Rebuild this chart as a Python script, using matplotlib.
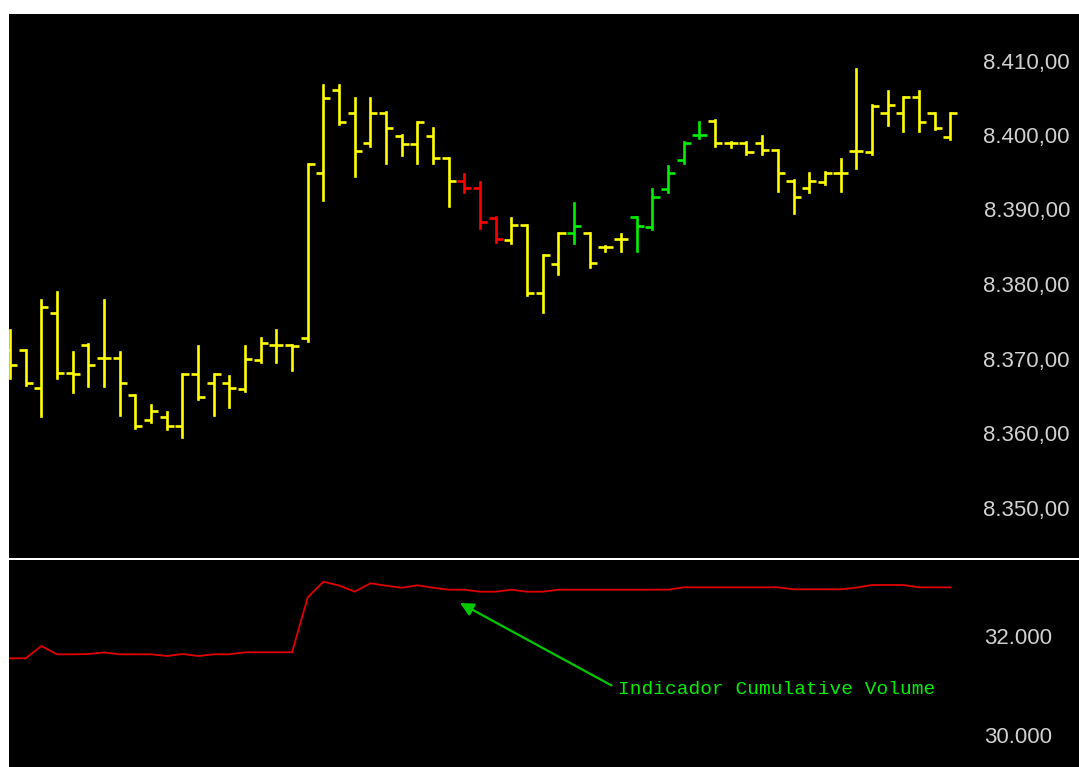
import matplotlib
matplotlib.use('Agg')
import matplotlib.pyplot as plt
import numpy as np

# ---------------- data ----------------
opens = [8371.5, 8371.5, 8366.4, 8376.4, 8368.4, 8372.1, 8370.4, 8370.4, 8365.4, 8362.1,
         8362.5, 8361.3, 8368.3, 8367.0, 8367.0, 8366.2, 8370.1, 8372.1, 8372.1, 8373.1,
         8395.2, 8406.4, 8403.3, 8399.3, 8403.3, 8400.2, 8399.1, 8400.2, 8397.2, 8394.2,
         8393.2, 8389.2, 8386.2, 8388.3, 8379.1, 8383.0, 8387.2, 8387.2, 8385.3, 8386.4,
         8389.3, 8388.0, 8393.1, 8397.0, 8400.3, 8402.2, 8399.3, 8399.3, 8399.3, 8398.3,
         8394.2, 8393.2, 8394.0, 8395.2, 8398.2, 8398.1, 8403.3, 8403.3, 8405.4, 8403.3, 8400.1]
highs = [8374.2, 8371.5, 8378.2, 8379.3, 8371.2, 8372.3, 8378.2, 8371.2, 8365.4, 8364.1,
         8363.2, 8368.3, 8372.0, 8368.3, 8368.0, 8372.0, 8373.1, 8374.2, 8372.1, 8396.4,
         8407.0, 8407.0, 8405.3, 8405.3, 8403.4, 8400.3, 8402.1, 8401.3, 8397.2, 8395.1,
         8394.0, 8389.3, 8389.2, 8388.3, 8384.2, 8387.2, 8391.2, 8387.2, 8385.4, 8387.0,
         8389.3, 8393.1, 8396.2, 8399.4, 8402.1, 8402.3, 8399.4, 8399.4, 8400.2, 8398.3,
         8394.3, 8395.2, 8395.4, 8397.1, 8409.2, 8404.4, 8406.2, 8405.4, 8406.2, 8403.3, 8403.3]
lows = [8367.7, 8366.8, 8362.6, 8367.7, 8365.8, 8366.6, 8366.6, 8362.8, 8361.0, 8361.8,
        8360.9, 8359.8, 8364.9, 8362.8, 8363.8, 8366.0, 8369.9, 8369.9, 8368.8, 8372.7,
        8391.6, 8401.8, 8394.8, 8398.9, 8396.6, 8397.7, 8396.6, 8396.6, 8390.8, 8392.7,
        8387.9, 8386.0, 8385.8, 8378.9, 8376.6, 8381.7, 8385.8, 8382.6, 8384.8, 8384.8,
        8384.8, 8387.7, 8392.7, 8396.6, 8399.9, 8398.9, 8398.7, 8397.8, 8397.8, 8392.8,
        8389.9, 8392.7, 8393.8, 8392.8, 8395.9, 8397.8, 8401.7, 8400.9, 8400.9, 8401.1, 8399.8]
closes = [8369.5, 8367.0, 8377.3, 8368.4, 8368.3, 8369.5, 8370.4, 8367.0, 8361.3, 8363.3,
          8361.3, 8368.3, 8365.2, 8368.3, 8366.4, 8370.3, 8372.4, 8372.1, 8372.0, 8396.4,
          8405.3, 8402.1, 8398.2, 8403.3, 8401.3, 8399.1, 8402.1, 8397.2, 8394.2, 8393.2,
          8388.7, 8386.4, 8388.3, 8379.1, 8384.2, 8387.2, 8388.1, 8383.2, 8385.3, 8386.4,
          8388.1, 8392.0, 8395.2, 8399.3, 8400.3, 8399.3, 8399.3, 8398.1, 8398.3, 8395.2,
          8392.0, 8394.2, 8395.2, 8395.2, 8398.2, 8404.2, 8404.4, 8405.4, 8402.1, 8401.3, 8403.3]
# bar signal: 'n' neutral, 'd' down (red), 'u' up (green)
signal = list('nnnnnnnnnn' 'nnnnnnnnnn' 'nnnnnnnnnd' 'ddnnnnunnn' 'uuuuunnnnn' 'nnnnnnnnnnn')
cum_volume = [31598, 31598, 31848, 31679, 31679, 31685, 31716, 31679, 31679, 31679,
              31645, 31685, 31645, 31679, 31679, 31720, 31720, 31720, 31720, 32836,
              33153, 33076, 32950, 33121, 33072, 33031, 33080, 33031, 32991, 32991,
              32950, 32950, 32991, 32950, 32950, 32991, 32991, 32991, 32991, 32991,
              32991, 32991, 32991, 33039, 33039, 33039, 33039, 33039, 33039, 33039,
              32999, 32999, 32999, 32999, 33031, 33086, 33086, 33086, 33039, 33039, 33039]
price_ticks = [8350, 8360, 8370, 8380, 8390, 8400, 8410]
volume_ticks = [30000, 32000]
annotation_text = 'Indicador Cumulative Volume'

# ---------------- figure ----------------
W, H = 1079, 767
fig = plt.figure(figsize=(W / 100, H / 100), dpi=100)
fig.patch.set_facecolor('white')


def rect(x0, y0, x1, y1):
    return [x0 / W, 1 - y1 / H, (x1 - x0) / W, (y1 - y0) / H]


ax = fig.add_axes(rect(9, 14, W, 558))
ax2 = fig.add_axes(rect(9, 560, W, H))
for a in (ax, ax2):
    a.set_facecolor('black')
    for s in a.spines.values():
        s.set_visible(False)
    a.set_xticks([])
    a.set_yticks([])

step = 15.67
xlim = (-1 / step, (W - 10) / step)
x = np.arange(len(opens))
cmap = {'n': '#ffff00', 'd': '#ff0000', 'u': '#00f000'}
cols = [cmap[s] for s in signal]

lw = 1.9
tick = 0.45
ax.vlines(x, lows, highs, colors=cols, linewidth=lw, capstyle='projecting')
ax.hlines(opens, x - tick, x, colors=cols, linewidth=lw)
ax.hlines(closes, x, x + tick, colors=cols, linewidth=lw)
ax.set_xlim(*xlim)
ax.set_ylim(8410 - (558 - 63) / 7.45, 8410 + (63 - 14) / 7.45)

label_kw = dict(color='#d0d0d0', fontsize=16, family='Liberation Sans',
                ha='right', va='center')
for t in price_ticks:
    s = f'{t:,.2f}'.replace(',', 'X').replace('.', ',').replace('X', '.')
    ax.text(1 - 9 / (W - 9), t, s, transform=ax.get_yaxis_transform(), **label_kw)

ax2.plot(x, cum_volume, color='#e00000', linewidth=1.3)
ax2.set_xlim(*xlim)
ax2.set_ylim(32000 - (767 - 638.5) * 20.3, 32000 + (638.5 - 560) * 20.3)
for t in volume_ticks:
    s = f'{t:,d}'.replace(',', '.')
    ax2.text(1 - 27 / (W - 9), t, s, transform=ax2.get_yaxis_transform(), **label_kw)

ax2.annotate(annotation_text,
             xy=((460 - 10) / step, 32000 + (638.5 - 603) * 20.3),
             xytext=((618 - 10) / step, 32000 - (689 - 638.5) * 20.3),
             color='#00ee00', fontsize=14, family='Liberation Mono',
             ha='left', va='center',
             arrowprops=dict(arrowstyle='-|>', color='#00c800', lw=1.6,
                             mutation_scale=20, shrinkA=3, shrinkB=0,
                             relpos=(0, 0.5)))

fig.savefig('out.png', dpi=100, facecolor='white')
